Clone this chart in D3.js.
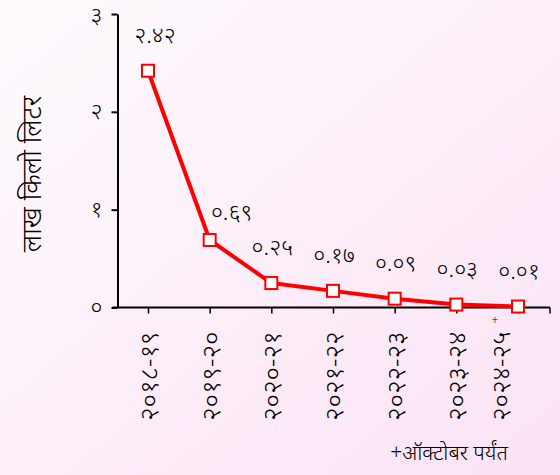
<!DOCTYPE html>
<html><head><meta charset="utf-8">
<script src="https://cdn.jsdelivr.net/npm/d3@7"></script>
<style>
html,body{margin:0;padding:0;}
svg{display:block;}
text{font-family:"Noto Sans","DejaVu Sans",sans-serif;fill:#000;font-weight:300;}
</style></head>
<body>
<script>
const categories = ["२०१८-१९","२०१९-२०","२०२०-२१","२०२१-२२","२०२२-२३","२०२३-२४","२०२४-२५"];
const values = [2.42, 0.69, 0.25, 0.17, 0.09, 0.03, 0.01];
const yTicks = [0, 1, 2, 3];
const yTitle = "लाख किलो लिटर";
const footnote = "+ऑक्टोबर पर्यंत";

const W = 560, H = 475;
const dev = s => String(s).replace(/[0-9]/g, d => "०१२३४५६७८९"[+d]);

const svg = d3.select("body").append("svg").attr("width", W).attr("height", H);
const defs = svg.append("defs");
const grad = defs.append("linearGradient").attr("id","bg").attr("x1","0").attr("y1","0").attr("x2","1").attr("y2","1");
grad.append("stop").attr("offset","0").attr("stop-color","#fefbfe");
grad.append("stop").attr("offset","1").attr("stop-color","#fbe2f4");
svg.append("rect").attr("width",W).attr("height",H).attr("fill","url(#bg)");

const axisX0 = 117.5, axisX1 = 550;
const y = d3.scaleLinear().domain([0,3]).range([307.5, 14]);
const x = d3.scalePoint().domain(categories).range([148, 518]);

// Y axis
const gy = svg.append("g").attr("transform",`translate(${axisX0},0)`)
  .call(d3.axisLeft(y).tickValues(yTicks).tickSize(6).tickSizeOuter(0).tickFormat(dev));
gy.select(".domain").attr("stroke","#000").attr("stroke-width",2);
gy.selectAll(".tick line").attr("stroke","#000").attr("stroke-width",2);
gy.selectAll(".tick text").attr("x",-15).attr("font-size",23).attr("dy","0.3em");
gy.selectAll(".tick").filter(d=>d===3).select("text").attr("dy","0.38em");

// X axis
const gx = svg.append("g").attr("transform",`translate(0,${y(0)})`)
  .call(d3.axisBottom(x).tickSize(6).tickSizeOuter(0).tickFormat(""));
gx.select(".domain").remove();
gx.selectAll(".tick line").attr("stroke","#000").attr("stroke-width",1.5);
gx.append("line").attr("x1",axisX0-5).attr("x2",axisX1).attr("stroke","#000").attr("stroke-width",2);
gx.append("line").attr("x1",axisX1).attr("x2",axisX1).attr("y1",0).attr("y2",6).attr("stroke","#000").attr("stroke-width",1.5);

// X labels (rotated)
svg.append("g").selectAll("text").data(categories).join("text")
  .attr("transform",(d,i)=>`translate(${x(d) + (i===categories.length-1 ? -18 : 0) + 10},${y(0)+24}) rotate(-90)`)
  .attr("text-anchor","end").attr("font-size",26)
  .text(d=>d);
// superscript + on last label
svg.append("text")
  .attr("x", x(categories[categories.length-1]) - 23)
  .attr("y", y(0) + 17)
  .attr("font-size", 12).attr("text-anchor","middle").text("+");

// Line
const line = d3.line().x((d,i)=>x(categories[i])).y(d=>y(d));
svg.append("path").datum(values).attr("d",line).attr("fill","none")
  .attr("stroke","#ff0000").attr("stroke-width",4).attr("stroke-linejoin","round");

// markers
svg.append("g").selectAll("rect").data(values).join("rect")
  .attr("x",(d,i)=>x(categories[i])-6).attr("y",d=>y(d)-6)
  .attr("width",12).attr("height",12)
  .attr("fill","#fff").attr("stroke","#ff0000").attr("stroke-width",2);

// data labels
svg.append("g").selectAll("text").data(values).join("text")
  .attr("x",(d,i)=>x(categories[i]) + (i===0 ? 7 : i===1 ? 22 : 1))
  .attr("y",(d,i)=>y(d) - (i===1 ? 28 : 36))
  .attr("dy","0.35em")
  .attr("text-anchor","middle").attr("font-size",23)
  .text(d=>dev(d.toFixed(2)));

// Y title
svg.append("text").attr("transform","translate(41,174) rotate(-90)")
  .attr("text-anchor","middle").attr("font-size",27).text(yTitle);

// footnote
svg.append("text").attr("x",449).attr("y",460).attr("text-anchor","middle")
  .attr("font-size",21).attr("font-family","'Liberation Serif','DejaVu Serif',serif").text(footnote);
</script>
</body></html>
